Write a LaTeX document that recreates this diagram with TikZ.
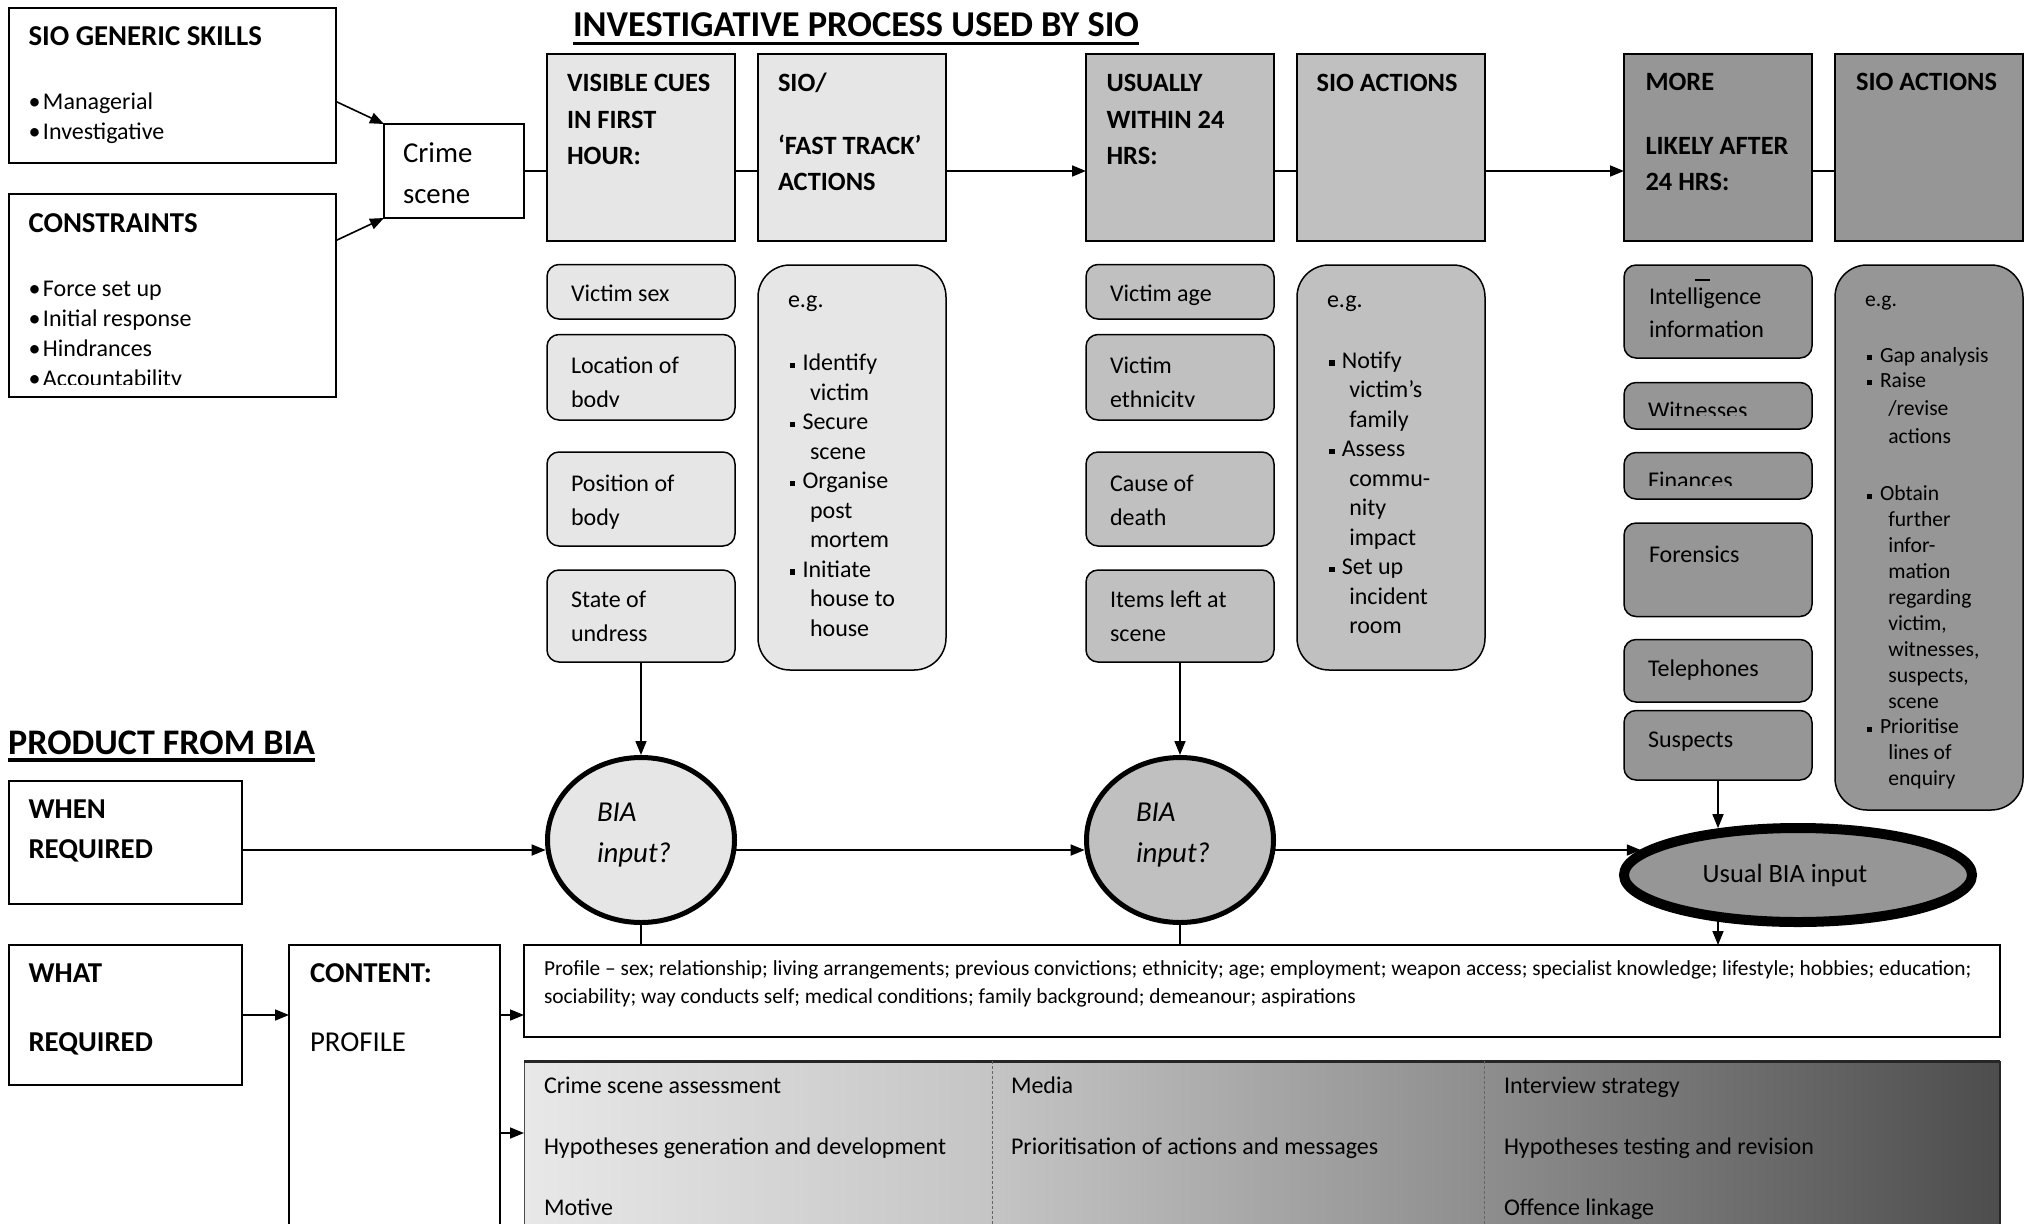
\documentclass[tikz,border=0pt]{standalone}
\usepackage{fontspec}
\setmainfont{Carlito}
\usetikzlibrary{arrows.meta,shapes.geometric}
\definecolor{gA}{HTML}{E6E6E6}
\definecolor{gB}{HTML}{C0C0C0}
\definecolor{gC}{HTML}{969696}
\definecolor{shA}{HTML}{E8E8E8}
\definecolor{shB}{HTML}{C4C4C4}
\definecolor{shC}{HTML}{8E8E8E}
\definecolor{shD}{HTML}{4D4D4D}
\pgfdeclarehorizontalshading{biagrad}{100bp}{color(0bp)=(shA); color(25bp)=(shA); color(41bp)=(shB); color(57.5bp)=(shC); color(75bp)=(shD); color(100bp)=(shD)}
\newcommand\fs[2]{\fontsize{#1bp}{#2bp}\selectfont}
\newcommand\ml[1]{\begin{tabular}[t]{@{}l@{}}#1\end{tabular}}
\newcommand\sqb{\rule[2.5bp]{5.5bp}{5.5bp}}
\newcommand\sqs{\rule[2.3bp]{5bp}{5bp}}
\newcommand\bl{\makebox[14.5bp][l]{•}}
\newcommand\BX[6][box]{\node[#1,minimum width={(#5-#3)*1bp},minimum height={(#6-#4)*1bp}] (#2) at (#3,#4) {};}
\newcommand\TX[5][]{\node[txt,#1] (#2) at (#3,#4) {#5};}
\tikzset{
  box/.style={draw, line width=1.5bp, anchor=north west, inner sep=0, outer sep=0},
  hbox/.style={box, line width=2bp},
  ibox/.style={box, rounded corners=12bp},
  ebox/.style={box, rounded corners=32bp},
  txt/.style={anchor=base west, inner sep=0, outer sep=0, font=\fs{24}{34}},
  hd/.style={txt, font=\bfseries\fs{26.4}{36.5}},
  bt/.style={txt, font=\bfseries\fs{28.8}{40}},
  arr/.style={line width=1.6bp, -{Triangle[length=14bp,width=11bp]}},
  ln/.style={line width=1.5bp},
  bia/.style={ellipse, draw, line width=5bp, inner sep=0, minimum width=187bp, minimum height=165bp},
}
\begin{document}
\begin{tikzpicture}[x=1bp,y=-1bp]
\clip (0,0) rectangle (2033,1223);
\fill[white] (0,0) rectangle (2033,1223);

% title
\node[anchor=base, inner sep=0, font=\bfseries\fs{36.4}{42}] (title) at (856,36) {INVESTIGATIVE PROCESS USED BY SIO};
\draw[line width=3bp] ([yshift=-7bp]title.base west) -- ([yshift=-7bp]title.base east);

% left boxes
\BX{gen}{9}{8}{336}{163}
\TX[bt]{tgen}{28.5}{45}{SIO GENERIC SKILLS}
\TX[font=\fs{24}{30}]{tgenb}{28.5}{109}{\ml{\bl Managerial\\\bl Investigative}}
\BX{con}{9}{194}{336}{397}
\TX[bt]{tcon}{28.5}{232}{CONSTRAINTS}
\begin{scope}
\clip (9,194) rectangle (336,384.5);
\TX[font=\fs{24}{30}]{tconb}{28.5}{296}{\ml{\bl Force set up\\\bl Initial response\\\bl Hindrances\\\bl Accountability}}
\end{scope}
\BX{cs}{384}{124}{524}{218}
\TX[font=\fs{28.8}{40.5}]{tcs}{403}{162.5}{\ml{Crime\\scene}}
\draw[arr] ([yshift=-16bp]gen.east) -- (cs.north west);
\draw[arr] ([yshift=55bp]con.east) -- (cs.south west);

% header boxes
\BX[hbox,fill=gA]{vc1}{547}{54}{735}{241}
\BX[hbox,fill=gA]{vc2}{758}{54}{946}{241}
\BX[hbox,fill=gB]{u1}{1086}{54}{1274}{241}
\BX[hbox,fill=gB]{u2}{1297}{54}{1485}{241}
\BX[hbox,fill=gC]{m1}{1624}{54}{1812}{241}
\BX[hbox,fill=gC]{m2}{1835}{54}{2023}{241}
\draw[ln] (cs.east) -- (cs.east -| vc1.west);
\draw[ln] (cs.east -| vc1.east) -- (cs.east -| vc2.west);
\draw[arr] (cs.east -| vc2.east) -- (cs.east -| u1.west);
\draw[ln] (cs.east -| u1.east) -- (cs.east -| u2.west);
\draw[arr] (cs.east -| u2.east) -- (cs.east -| m1.west);
\draw[ln] (cs.east -| m1.east) -- (cs.east -| m2.west);
\TX[hd]{tvc1}{567}{91.5}{\ml{VISIBLE CUES\\IN FIRST\\HOUR:}}
\TX[hd]{tvc2}{778}{91.5}{SIO/}
\TX[hd]{tvc2b}{778}{154}{\ml{‘FAST TRACK’\\ACTIONS}}
\TX[hd]{tu1}{1106.5}{91.5}{\ml{USUALLY\\WITHIN 24\\HRS:}}
\TX[hd]{tu2}{1316.5}{91.5}{SIO ACTIONS}
\TX[hd]{tm1}{1645.5}{90}{MORE}
\TX[hd]{tm1b}{1645.5}{154}{\ml{LIKELY AFTER\\24 HRS:}}
\TX[hd]{tm2}{1856}{90}{SIO ACTIONS}

% first hour column
\BX[ibox,fill=gA]{vsex}{547}{264.5}{735}{319}
\BX[ibox,fill=gA]{loc}{547}{334.5}{735}{420}
\BX[ibox,fill=gA]{pos}{547}{452}{735}{546}
\BX[ibox,fill=gA]{und}{547}{570}{735}{662}
\TX{tvsex}{571}{301}{Victim sex}
\begin{scope}
\clip (547,334.5) rectangle (735,406.5);
\TX{tloc}{571}{373}{\ml{Location of\\body}}
\end{scope}
\TX{tpos}{571}{491}{\ml{Position of\\body}}
\TX{tund}{571}{607}{\ml{State of\\undress}}
\BX[ebox,fill=gA]{vceg}{758}{265}{946}{670}
\TX{tvceg}{788}{307}{e.g.}
\TX[font=\fs{24}{29.5}]{tvcb}{789.5}{370.5}{\ml{\sqb\hspace{7.5bp}Identify\\\hspace{20.5bp}victim\\\sqb\hspace{7.5bp}Secure\\\hspace{20.5bp}scene\\\sqb\hspace{7.5bp}Organise\\\hspace{20.5bp}post\\\hspace{20.5bp}mortem\\\sqb\hspace{7.5bp}Initiate\\\hspace{20.5bp}house to\\\hspace{20.5bp}house}}

% 24 hours column
\BX[ibox,fill=gB]{age}{1086}{264.5}{1274}{319}
\BX[ibox,fill=gB]{eth}{1086}{334.5}{1274}{420}
\BX[ibox,fill=gB]{cause}{1086}{452}{1274}{546}
\BX[ibox,fill=gB]{items}{1086}{570}{1274}{662}
\TX{tage}{1110}{301}{Victim age}
\begin{scope}
\clip (1086,334.5) rectangle (1274,406.5);
\TX{teth}{1110}{373}{\ml{Victim\\ethnicity}}
\end{scope}
\TX{tcause}{1110}{491}{\ml{Cause of\\death}}
\TX{titems}{1110}{607}{\ml{Items left at\\scene}}
\BX[ebox,fill=gB]{ueg}{1297}{265}{1485}{670}
\TX{tueg}{1327}{307}{e.g.}
\TX[font=\fs{24}{29.5}]{tueb}{1329.3}{368}{\ml{\sqb\hspace{7bp}Notify\\\hspace{20bp}victim’s\\\hspace{20bp}family\\\sqb\hspace{7bp}Assess\\\hspace{20bp}commu-\\\hspace{20bp}nity\\\hspace{20bp}impact\\\sqb\hspace{7bp}Set up\\\hspace{20bp}incident\\\hspace{20bp}room}}

% after 24 hours column
\BX[ibox,fill=gC]{intel}{1624}{265}{1812}{358}
\BX[ibox,fill=gC]{wit}{1624}{382.5}{1812}{429}
\BX[ibox,fill=gC]{fin}{1624}{452.5}{1812}{499}
\BX[ibox,fill=gC]{foren}{1624}{523}{1812}{616.5}
\BX[ibox,fill=gC]{tel}{1624}{639.5}{1812}{702}
\BX[ibox,fill=gC]{sus}{1624}{710.5}{1812}{780}
\TX[font=\fs{24}{32.3}]{tintel}{1649}{304.7}{\ml{Intelligence\\information}}
\draw[line width=1.5bp] (1695,280) -- (1710,280);
\begin{scope}
\clip (1624,382.5) rectangle (1812,415.5);
\TX{twit}{1648}{418}{Witnesses}
\end{scope}
\begin{scope}
\clip (1624,452.5) rectangle (1812,485);
\TX{tfin}{1648}{488}{Finances}
\end{scope}
\TX{tforen}{1649}{562}{Forensics}
\TX{ttel}{1648}{676.5}{Telephones}
\TX{tsus}{1648}{747}{Suspects}
\BX[ebox,fill=gC]{meg}{1835}{265}{2023}{810}
\TX[font=\fs{21.6}{26}]{tmeg}{1865}{306.6}{e.g.}
\TX[font=\fs{21.6}{26}]{tmga}{1866.7}{362}{\sqs\hspace{8.3bp}Gap analysis}
\TX[font=\fs{21.6}{28}]{tmgb}{1866.7}{387}{\ml{\sqs\hspace{8.3bp}Raise\\\hspace{21.6bp}/revise\\\hspace{21.6bp}actions}}
\TX[font=\fs{21.6}{25.9}]{tmgc}{1866.7}{500.8}{\ml{\sqs\hspace{8.3bp}Obtain\\\hspace{21.6bp}further\\\hspace{21.6bp}infor-\\\hspace{21.6bp}mation\\\hspace{21.6bp}regarding\\\hspace{21.6bp}victim,\\\hspace{21.6bp}witnesses,\\\hspace{21.6bp}suspects,\\\hspace{21.6bp}scene\\\sqs\hspace{8.3bp}Prioritise\\\hspace{21.6bp}lines of\\\hspace{21.6bp}enquiry}}

% BIA ellipses
\node[bia, fill=gA] (e1) at (641,840) {};
\node[bia, fill=gB] (e2) at (1180,840) {};
\node[bia, fill=gC, line width=10bp, minimum width=348bp, minimum height=94bp, font=\fs{26.4}{30}] (e3) at (1798,875) {\hspace*{-26bp}Usual BIA input};
\TX[font=\itshape\fs{28.8}{41}]{te1}{597}{821}{\ml{BIA\\input?}}
\TX[font=\itshape\fs{28.8}{41}]{te2}{1136}{821}{\ml{BIA\\input?}}
\draw[arr] (und.south) -- (e1.north);
\draw[arr] (items.south) -- (e2.north);
\draw[arr] (sus.south) -- (sus.south |- e3.149.8);

% product from BIA
\node[anchor=base west, inner sep=0, font=\bfseries\fs{36}{42}] (prod) at (8,754) {PRODUCT FROM BIA};
\draw[line width=3.3bp] ([yshift=-6bp]prod.base west) -- ([yshift=-6bp]prod.base east);
\BX{when}{9}{781}{242}{904}
\TX[bt]{twhen}{28.5}{818.5}{\ml{WHEN\\REQUIRED}}
\draw[arr] (when.east |- e1.186) -- (e1.186);
\draw[arr] (e1.354) -- (e2.186);
\draw[arr] (e2.354) -- (e2.354 -| e3.171);

\BX{what}{9}{945}{242}{1085}
\TX[bt]{twhat}{28.5}{982.5}{WHAT}
\TX[bt]{twhat2}{28.5}{1051}{REQUIRED}
\BX{cont}{289}{945}{500}{1250}
\TX[bt]{tcont}{310}{982.5}{CONTENT:}
\TX[font=\fs{28.8}{40}]{tcont2}{310}{1051}{PROFILE}
\BX{prof}{524}{945}{2000}{1037}
\TX[font=\fs{21.4}{28.5}]{tprof}{544}{975}{\ml{Profile – sex; relationship; living arrangements; previous convictions; ethnicity; age; employment; weapon access; specialist knowledge; lifestyle; hobbies; education;\\sociability; way conducts self; medical conditions; family background; demeanour; aspirations}}
\BX[box,shade,shading=biagrad,draw=black!70,line width=1bp]{grad}{524}{1061}{2000}{1250}
\draw[line width=3bp, black!85] (grad.north west) -- (grad.north east);
\draw[line width=2.5bp, black!85] (grad.north east) -- (grad.south east);
\draw[line width=0.6bp, black!60, dash pattern=on 3bp off 2bp] (992,1061) -- (992,1250);
\draw[line width=0.6bp, black!60, dash pattern=on 3bp off 2bp] (1484,1061) -- (1484,1250);
\TX[font=\fs{24}{61}]{tg1}{544}{1093}{\ml{Crime scene assessment\\Hypotheses generation and development\\Motive}}
\TX[font=\fs{24}{61}]{tg2}{1011}{1093}{\ml{Media\\Prioritisation of actions and messages}}
\TX[font=\fs{24}{61}]{tg3}{1504}{1093}{\ml{Interview strategy\\Hypotheses testing and revision\\Offence linkage}}
\draw[arr] (what.east) -- (what.east -| cont.west);
\draw[arr] (what.east -| cont.east) -- (what.east -| prof.west);
\coordinate (gy) at (0,1133);
\draw[arr] (gy -| cont.east) -- (gy -| grad.west);
\draw[ln] (e1.south) -- (e1.south |- prof.north);
\draw[ln] (e2.south) -- (e2.south |- prof.north);
\draw[arr] (sus.south |- e3.210) -- (sus.south |- prof.north);
\end{tikzpicture}
\end{document}
